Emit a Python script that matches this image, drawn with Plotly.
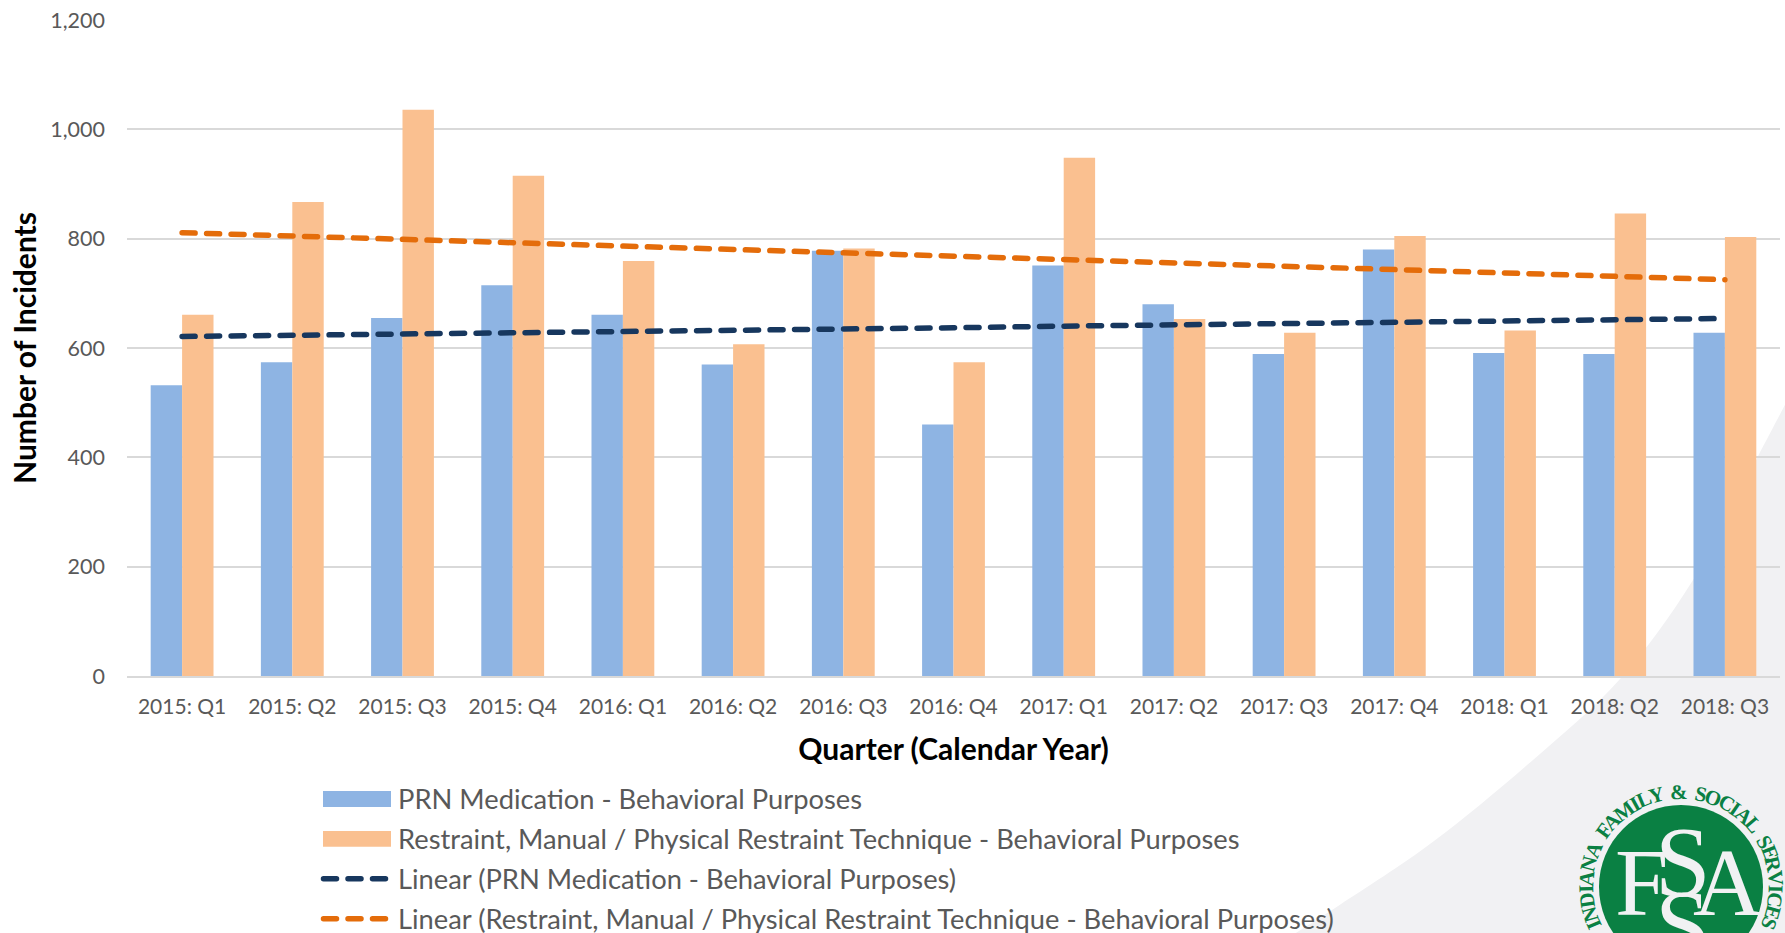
import math
import plotly.graph_objects as go

quarters = ["2015: Q1","2015: Q2","2015: Q3","2015: Q4","2016: Q1","2016: Q2","2016: Q3","2016: Q4",
            "2017: Q1","2017: Q2","2017: Q3","2017: Q4","2018: Q1","2018: Q2","2018: Q3"]
prn = [532,574,655,715,661,570,778,460,751,680,589,780,591,589,628]
restraint = [661,867,1036,915,759,607,782,574,948,653,628,805,632,846,803]
prn_trend = [621,623,626,628,630,633,635,637,640,642,645,647,649,652,654]
restraint_trend = [811,805,799,793,787,781,775,769,762,756,750,744,738,731,725]

NAME_PRN = "PRN Medication - Behavioral Purposes"
NAME_RES = "Restraint, Manual / Physical Restraint Technique - Behavioral Purposes"
NAME_PRN_T = "Linear (" + NAME_PRN + ")"
NAME_RES_T = "Linear (" + NAME_RES + ")"
BLUE, PEACH, NAVY, ORANGE = "#8eb4e3", "#fac090", "#17375e", "#e46c0a"
GREEN = "#0a8043"
TXT = "#595959"
FONT = "Lato"

W, H = 1785, 933
L, R, T, B = 127, 5, 19.5, 257
def fx(x): return (x - L) / (W - L - R)
def fy(y): return 1 - (y - T) / (H - T - B)

fig = go.Figure()
fig.add_bar(x=quarters, y=prn, name=NAME_PRN, marker_color=BLUE, marker_line_width=0)
fig.add_bar(x=quarters, y=restraint, name=NAME_RES, marker_color=PEACH, marker_line_width=0)
dash = "13px,11.5px"
fig.add_scatter(x=quarters, y=prn_trend, mode="lines", name=NAME_PRN_T, line=dict(color=NAVY, width=5.5, dash=dash))
fig.add_scatter(x=quarters, y=restraint_trend, mode="lines", name=NAME_RES_T, line=dict(color=ORANGE, width=5.5, dash=dash))

# background swoosh, smoothed through points
pts = [(1790,395),(1757,458),(1693,580),(1620,679),(1533,760),(1433,842),(1340,905),(1285,940)]
path = f"M{fx(pts[0][0])},{fy(pts[0][1])}"
for i in range(len(pts)-1):
    p0 = pts[max(i-1,0)]; p1 = pts[i]; p2 = pts[i+1]; p3 = pts[min(i+2,len(pts)-1)]
    c1 = (p1[0]+(p2[0]-p0[0])/6, p1[1]+(p2[1]-p0[1])/6)
    c2 = (p2[0]-(p3[0]-p1[0])/6, p2[1]-(p3[1]-p1[1])/6)
    path += f" C{fx(c1[0])},{fy(c1[1])} {fx(c2[0])},{fy(c2[1])} {fx(p2[0])},{fy(p2[1])}"
path += f" L{fx(1790)},{fy(940)} Z"
shapes = [dict(type="path", xref="paper", yref="paper", path=path, fillcolor="#f1f1f3", line_width=0, layer="below")]
annos = []

# legend
rows = [799, 839, 879, 919]
for yy, name, col, is_bar in [(rows[0], NAME_PRN, BLUE, True), (rows[1], NAME_RES, PEACH, True),
                              (rows[2], NAME_PRN_T, NAVY, False), (rows[3], NAME_RES_T, ORANGE, False)]:
    if is_bar:
        shapes.append(dict(type="rect", xref="paper", yref="paper", x0=fx(323), x1=fx(391), y0=fy(yy+8), y1=fy(yy-8),
                           fillcolor=col, line_width=0))
    else:
        shapes.append(dict(type="line", xref="paper", yref="paper", x0=fx(323.5), x1=fx(385.5), y0=fy(yy), y1=fy(yy),
                           line=dict(color=col, width=5.5, dash=dash)))
    annos.append(dict(xref="paper", yref="paper", x=fx(396), y=fy(yy), text=name, showarrow=False,
                      xanchor="left", yanchor="middle", font=dict(family=FONT, size=27.3, color=TXT)))

# logo
cx, cy, r = 1681, 887, 82
shapes.append(dict(type="circle", xref="paper", yref="paper", x0=fx(cx-r), x1=fx(cx+r), y0=fy(cy+r), y1=fy(cy-r),
                   fillcolor=GREEN, line_width=0))
def letter(x, y, t, size, color="#f1f1f3", angle=0):
    annos.append(dict(xref="paper", yref="paper", x=fx(x), y=fy(y), text=t, showarrow=False, textangle=angle,
                      font=dict(family="Liberation Serif", size=size, color=color),
                      xanchor="center", yanchor="middle"))
ring = "INDIANA FAMILY & SOCIAL SERVICES"
wt = {"I":.6,"M":1.3,"L":.9,"Y":1,"&":1.2," ":.6,"F":.9,"A":1.05,"S":.85,"E":.9,"C":1,"O":1.1,"R":1,"V":1,"N":1.1,"D":1.05}
ws = [wt.get(c,1) for c in ring]
a0, a1 = -116, 116
tot = sum(ws)
acc = 0
for c, w in zip(ring, ws):
    ang = a0 + (a1-a0)*(acc + w/2)/tot
    acc += w
    if c != " ":
        rr = 95
        letter(cx + rr*math.sin(math.radians(ang)), cy - rr*math.cos(math.radians(ang)), f"<b>{c}</b>", 21, GREEN, ang)
letter(1641, 883, "F", 96)
letter(1727, 883, "A", 96)
letter(1683, 862, "S", 100)
letter(1683, 925, "S", 100)

fig.update_layout(
    width=W, height=H, autosize=False, showlegend=False,
    margin=dict(l=L, r=R, t=T, b=B),
    paper_bgcolor="white", plot_bgcolor="rgba(0,0,0,0)",
    barmode="group", bargap=0.43, bargroupgap=0,
    font=dict(family=FONT, color=TXT),
    shapes=shapes, annotations=annos,
    xaxis=dict(type="category", showgrid=False, showline=True, linecolor="#d9d9d9", linewidth=2,
               ticks="", tickfont=dict(size=21, color=TXT), ticklabelstandoff=11,
               title=dict(text="<b>Quarter (Calendar Year)</b>", font=dict(size=30, color="black"), standoff=22)),
    yaxis=dict(range=[0,1200], tick0=0, dtick=200, tickformat=",", showgrid=True, gridcolor="#d9d9d9", gridwidth=2,
               zeroline=False, ticks="", tickfont=dict(size=21.5, color=TXT), ticklabelstandoff=21,
               title=dict(text="<b>Number of Incidents</b>", font=dict(size=30, color="black"), standoff=4)),
)

post = """
document.body.style.margin='0';document.body.style.overflow='hidden';
var s=document.createElement('style');
s.textContent='.js-line,.shapelayer path[style*="dasharray"]{stroke-linecap:round}';
document.head.appendChild(s);
"""
fig.write_html("out.html", post_script=post, config=dict(displayModeBar=False))
